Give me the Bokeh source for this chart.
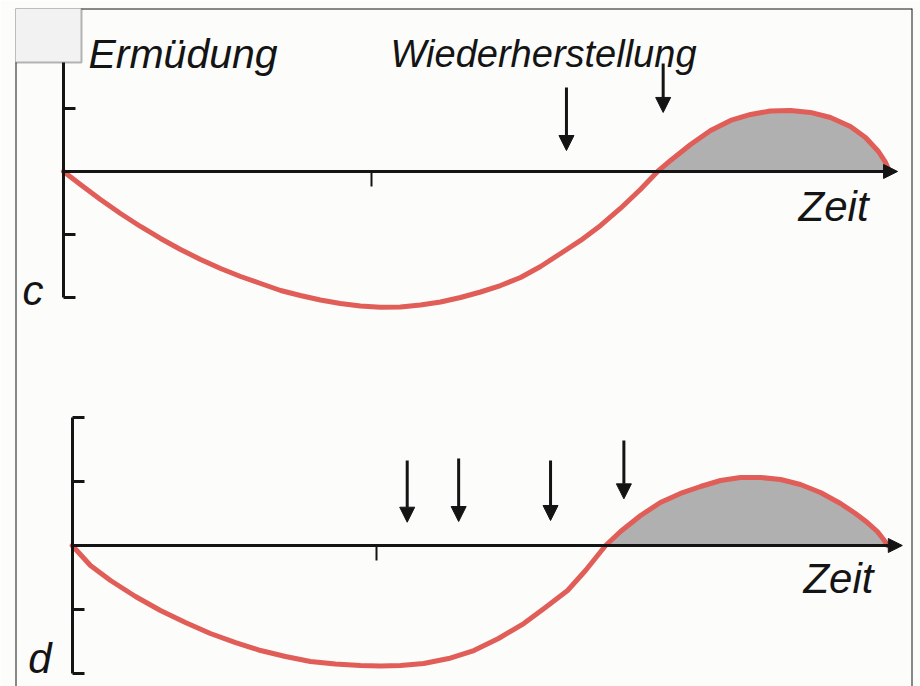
from bokeh.plotting import figure
from bokeh.models import (Range1d, LinearAxis, FixedTicker, Arrow, NormalHead,
                          Label, Span, BoxAnnotation, ColumnDataSource)
from bokeh.embed import file_html
from bokeh.resources import INLINE

# ---------------- data ----------------
# panel c : fatigue (below axis) and recovery (above axis) over time
c_t = [0.000, 0.055, 0.120, 0.185, 0.250, 0.315, 0.380, 0.445, 0.510, 0.575,
       0.640, 0.705, 0.769, 0.834, 0.899, 0.964, 1.029, 1.094, 1.159, 1.224,
       1.289, 1.354, 1.419, 1.484, 1.549, 1.614, 1.679, 1.744, 1.808, 1.873,
       1.929, 1.971, 2.036, 2.101, 2.166, 2.231, 2.295, 2.360, 2.425, 2.490,
       2.555, 2.604, 2.646, 2.669, 2.682]
c_y = [0.000, -0.206, -0.444, -0.667, -0.873, -1.063, -1.238, -1.397, -1.540, -1.667,
       -1.778, -1.889, -1.968, -2.040, -2.095, -2.135, -2.154, -2.151, -2.119, -2.071,
       -2.000, -1.913, -1.810, -1.683, -1.508, -1.302, -1.095, -0.857, -0.587, -0.286,
       0.000, 0.175, 0.429, 0.651, 0.810, 0.905, 0.960, 0.968, 0.937, 0.857,
       0.714, 0.540, 0.317, 0.143, 0.000]
# stimulus arrows in panel c
c_arrow_t = [1.633, 1.947]
c_arrow_top = [1.333, 1.714]
c_arrow_tip = [0.333, 0.937]

# panel d
d_t = [0.000, 0.060, 0.126, 0.208, 0.290, 0.372, 0.454, 0.537, 0.619, 0.701,
       0.783, 0.865, 0.947, 1.013, 1.079, 1.155, 1.237, 1.320, 1.401, 1.484,
       1.555, 1.628, 1.687, 1.753, 1.802, 1.868, 1.933, 1.999, 2.065, 2.131,
       2.196, 2.262, 2.328, 2.393, 2.459, 2.525, 2.574, 2.613, 2.646, 2.669, 2.680]
d_y = [0.000, -0.313, -0.547, -0.797, -1.016, -1.203, -1.375, -1.516, -1.641, -1.734,
       -1.813, -1.852, -1.875, -1.883, -1.875, -1.844, -1.766, -1.641, -1.453, -1.219,
       -0.969, -0.703, -0.391, 0.000, 0.219, 0.469, 0.672, 0.813, 0.922, 1.016,
       1.063, 1.063, 1.031, 0.953, 0.828, 0.656, 0.500, 0.359, 0.219, 0.078, 0.000]
d_arrow_t = [1.101, 1.270, 1.572, 1.813]
d_arrow_top = [1.328, 1.360, 1.328, 1.641]
d_arrow_tip = [0.364, 0.375, 0.391, 0.729]

y_ticks = [-2, -1, 1, 2]
x_ticks = [1]
c_axis_end = 2.708
d_axis_end = 2.728

RED = "#e05d58"
GRAY = "#b0b0b0"
INK = "#141414"
PAPER = "#fcfcfa"
FONT = "Liberation Sans"

# ---------------- figure ----------------
p = figure(width=920, height=686, output_backend="svg", toolbar_location=None,
           x_axis_type=None, y_axis_type=None,
           x_range=Range1d(-0.1558, 2.7565), y_range=Range1d(-8.175, 2.587),
           min_border_left=15, min_border_right=8, min_border_top=8, min_border_bottom=0)
p.extra_x_ranges = {"xd": Range1d(-0.1863, 2.7615)}
p.extra_y_ranges = {"yd": Range1d(-2.203, 8.391)}
p.outline_line_color = None
p.background_fill_color = PAPER
p.border_fill_color = PAPER

# frame lines of the scanned page
for sp in [Span(location=-0.1558, dimension="height"),
           Span(location=2.7565, dimension="height"),
           Span(location=2.587, dimension="width")]:
    sp.line_color = INK
    sp.line_width = 2
    p.add_layout(sp)

panels = [
    ("default", "default", c_t, c_y, c_arrow_t, c_arrow_top, c_arrow_tip, c_axis_end),
    ("xd", "yd", d_t, d_y, d_arrow_t, d_arrow_top, d_arrow_tip, d_axis_end),
]

for xr, yr, ts, ys, at, atop, atip, aend in panels:
    # shaded recovery area (positive part)
    pos_t = [t for t, y in zip(ts, ys) if y >= 0 and t > 0]
    pos_y = [y for t, y in zip(ts, ys) if y >= 0 and t > 0]
    p.varea(x=pos_t, y1=[0] * len(pos_t), y2=pos_y, fill_color=GRAY,
            x_range_name=xr, y_range_name=yr)

    # x axis with arrow
    p.add_layout(Arrow(x_start=0, y_start=0, x_end=aend, y_end=0,
                       line_color=INK, line_width=3,
                       end=NormalHead(size=14, fill_color=INK, line_color=INK),
                       x_range_name=xr, y_range_name=yr))
    xa = LinearAxis(fixed_location=0, bounds=(0, aend), ticker=FixedTicker(ticks=x_ticks),
                    major_tick_out=15, major_tick_in=0, minor_tick_out=0, minor_tick_in=0,
                    axis_line_color=None, major_tick_line_color=INK, major_tick_line_width=2,
                    major_label_overrides={t: "" for t in x_ticks},
                    x_range_name=xr, y_range_name=yr)
    p.add_layout(xa, "below")

    # y axis bracket
    ya = LinearAxis(fixed_location=0, bounds=(-2, 2), ticker=FixedTicker(ticks=y_ticks),
                    major_tick_out=0, major_tick_in=12, minor_tick_out=0, minor_tick_in=0,
                    axis_line_color=INK, axis_line_width=3,
                    major_tick_line_color=INK, major_tick_line_width=3,
                    major_label_overrides={t: "" for t in y_ticks},
                    x_range_name=xr, y_range_name=yr)
    p.add_layout(ya, "left")

    # the curve
    p.line(ts, ys, line_color=RED, line_width=5, line_cap="round", line_join="round",
           x_range_name=xr, y_range_name=yr)

    # stimulus arrows
    src = ColumnDataSource(dict(x=at, y0=atop, y1=atip))
    p.add_layout(Arrow(x_start="x", y_start="y0", x_end="x", y_end="y1", source=src,
                       line_color=INK, line_width=3,
                       end=NormalHead(size=15, fill_color=INK, line_color=INK),
                       x_range_name=xr, y_range_name=yr))

# texts
def lab(text, x, y, size, xr="default", yr="default", align="left"):
    p.add_layout(Label(x=x, y=y, text=text, text_font=FONT, text_font_style="italic",
                       text_font_size=size, text_color=INK, text_align=align,
                       text_baseline="alphabetic", x_range_name=xr, y_range_name=yr))

lab("Ermüdung", 0.081, 1.87, "41px")
lab("Wiederherstellung", 1.062, 1.87, "38px")
lab("Zeit", 2.614, -0.56, "42px", align="right")
lab("c", -0.133, -1.89, "42px")
lab("Zeit", 2.633, -0.52, "42px", xr="xd", yr="yd", align="right")
lab("d", -0.144, -1.76, "42px", xr="xd", yr="yd")

# small pasted box in the top-left corner of the scan
p.add_layout(BoxAnnotation(left=0, right=81, top=0, bottom=62,
                           left_units="canvas", right_units="canvas",
                           top_units="canvas", bottom_units="canvas",
                           fill_color="#f2f2f2", fill_alpha=1.0,
                           line_color=INK, line_width=2, level="overlay"))

open("out.html", "w").write(file_html(p, INLINE))
